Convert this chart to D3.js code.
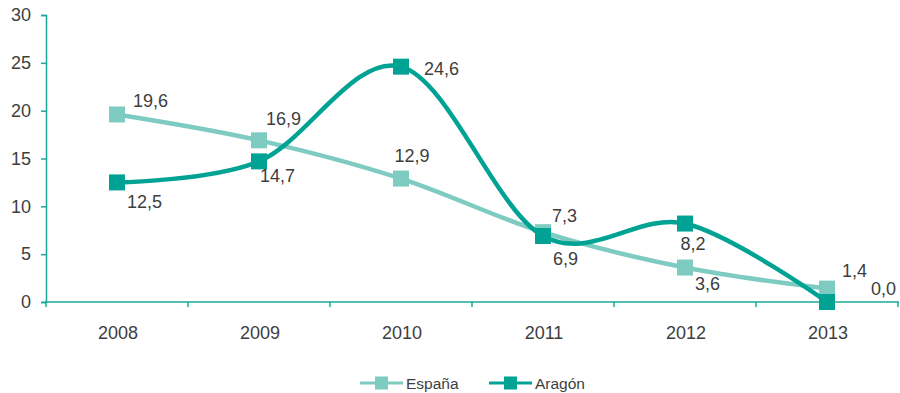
<!DOCTYPE html>
<html>
<head>
<meta charset="utf-8">
<script src="https://cdn.jsdelivr.net/npm/d3@7/dist/d3.min.js"></script>
<style>
  body { margin: 0; background: #fff; }
  svg { display: block; font-family: "Liberation Sans", Arial, sans-serif; }
</style>
</head>
<body>
<svg id="chart" width="900" height="393"></svg>
<script>
// Years on the category axis
const years = ["2008", "2009", "2010", "2011", "2012", "2013"];
// Series values
const espana = [19.6, 16.9, 12.9, 7.3, 3.6, 1.4];
const aragon = [12.5, 14.7, 24.6, 6.9, 8.2, 0.0];
// Y-axis ticks
const yTicks = [0, 5, 10, 15, 20, 25, 30];

const colors = { espana: "#7ecbc1", aragon: "#00a393", axis: "#1aa898", text: "#3e3e3e" };

// Value-label offsets from each marker centre: [dx, dy, anchor]
const espanaLabelOffsets = [
  [16, -7, "start"], [7, -15, "start"], [11, -17, "middle"],
  [9, -10, "start"], [10, 22, "start"], [15, -12, "start"]
];
const aragonLabelOffsets = [
  [10, 26, "start"], [1, 21, "start"], [23, 8, "start"],
  [10, 29, "start"], [8, 26, "middle"], [44, -7, "start"]
];

const svg = d3.select("#chart");
const plot = { left: 46, right: 898, top: 15, bottom: 302 };

const x = d3.scaleBand().domain(years).range([plot.left, plot.right]);
const y = d3.scaleLinear().domain([0, 30]).range([plot.bottom, plot.top]);
const cx = d => x(d) + x.bandwidth() / 2;

// Y axis
const yAxis = svg.append("g").attr("transform", `translate(${plot.left},0)`)
  .call(d3.axisLeft(y).tickValues(yTicks).tickSize(5).tickPadding(10));
yAxis.select(".domain").attr("stroke", colors.axis).attr("stroke-width", 1.5);
yAxis.selectAll(".tick line").attr("stroke", colors.axis).attr("stroke-width", 1.5);
yAxis.selectAll(".tick text").attr("fill", colors.text).style("font-size", "18px")
  .style("font-family", "Liberation Sans, Arial, sans-serif");

// X axis: ticks sit on the band boundaries
const xAxis = svg.append("g").attr("transform", `translate(0,${plot.bottom})`);
xAxis.append("line").attr("x1", plot.left - 1).attr("x2", plot.right + 1)
  .attr("stroke", colors.axis).attr("stroke-width", 1.5);
const bounds = years.map(d => x(d)).concat([plot.right]);
xAxis.selectAll("line.tk").data(bounds).join("line").attr("class", "tk")
  .attr("x1", d => d).attr("x2", d => d).attr("y1", 0).attr("y2", 5)
  .attr("stroke", colors.axis).attr("stroke-width", 1.5);
xAxis.selectAll("text").data(years).join("text")
  .attr("x", d => cx(d) + 1).attr("y", 37).attr("text-anchor", "middle")
  .attr("fill", colors.text).style("font-size", "18px").text(d => d);

const line = d3.line().x(d => cx(d.year)).y(d => y(d.v)).curve(d3.curveCardinal.tension(0));

function drawSeries(values, color, offsets) {
  const pts = years.map((yr, i) => ({ year: yr, v: values[i], off: offsets[i] }));
  svg.append("path").datum(pts).attr("d", line)
    .attr("fill", "none").attr("stroke", color).attr("stroke-width", 4.5)
    .attr("stroke-linejoin", "round");
  svg.selectAll(null).data(pts).join("rect")
    .attr("x", d => cx(d.year) - 8).attr("y", d => y(d.v) - 8)
    .attr("width", 16).attr("height", 16).attr("fill", color);
  svg.selectAll(null).data(pts).join("text")
    .attr("x", d => cx(d.year) + d.off[0])
    .attr("y", d => y(d.v) + d.off[1])
    .attr("text-anchor", d => d.off[2])
    .attr("fill", colors.text).style("font-size", "18px")
    .text(d => d3.format(".1f")(d.v).replace(".", ","));
}

drawSeries(espana, colors.espana, espanaLabelOffsets);
drawSeries(aragon, colors.aragon, aragonLabelOffsets);

// Legend
const legend = [
  { name: "España", color: colors.espana, x: 360 },
  { name: "Aragón", color: colors.aragon, x: 489 }
];
const lg = svg.append("g").attr("transform", "translate(0,383)");
legend.forEach(l => {
  lg.append("line").attr("x1", l.x).attr("x2", l.x + 43).attr("stroke", l.color).attr("stroke-width", 3);
  lg.append("rect").attr("x", l.x + 15).attr("y", -6.5).attr("width", 13).attr("height", 13).attr("fill", l.color);
  lg.append("text").attr("x", l.x + 46).attr("y", 6).attr("fill", colors.text)
    .style("font-size", "15.5px").text(l.name);
});
</script>
</body>
</html>
